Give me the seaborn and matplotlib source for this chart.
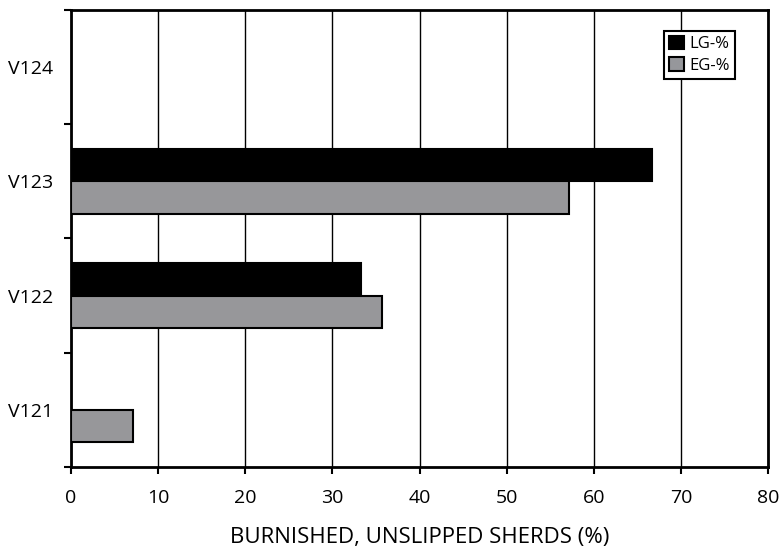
import numpy as np
import pandas as pd
import matplotlib.pyplot as plt
import seaborn as sns
from matplotlib.patches import Patch

# data
sites = ["V124", "V123", "V122", "V121"]
lg_pct = [np.nan, 66.7, 33.3, np.nan]
eg_pct = [np.nan, 57.1, 35.7, 7.1]
series = ["LG-%", "EG-%"]
colors = ["#000000", "#96979b"]

df = pd.DataFrame({"site": sites * 2,
                   "group": [series[0]] * 4 + [series[1]] * 4,
                   "pct": lg_pct + eg_pct}).dropna()

sns.set_style("white")
plt.rcParams["font.family"] = ["Open Sans", "DejaVu Sans"]
plt.rcParams["text.color"] = "black"
plt.rcParams["axes.labelcolor"] = "black"
plt.rcParams["xtick.color"] = "black"
plt.rcParams["ytick.color"] = "black"

fig = plt.figure(figsize=(7.81, 5.49), dpi=100)
ax = fig.add_axes([0.0909, 0.1494, 0.8925, 0.8324])

sns.barplot(data=df, x="pct", y="site", hue="group", order=sites,
            hue_order=series, palette=colors, orient="h", width=0.57,
            edgecolor="black", linewidth=1.5, legend=False, ax=ax, zorder=3)

ax.set_xlim(0, 80)
ax.set_ylim(3.5, -0.5)
ax.set_xticks(range(0, 81, 10))
ax.xaxis.grid(True, color="black", linewidth=1, zorder=0)
ax.set_axisbelow(True)

ax.set_yticks(range(4))
ax.set_yticklabels(sites)
ax.set_yticks(np.arange(-0.5, 4, 1), minor=True)
ax.tick_params(axis="y", which="major", length=0, pad=13, labelsize=14)
ax.tick_params(axis="y", which="minor", length=5, width=1.5, direction="out", left=True)
ax.tick_params(axis="x", length=5, width=1.5, direction="out", bottom=True, labelsize=14, pad=11)

for s in ax.spines.values():
    s.set_visible(True)
    s.set_color("black")
    s.set_linewidth(2)

ax.set_ylabel("")
ax.set_xlabel("BURNISHED, UNSLIPPED SHERDS (%)", fontsize=16, labelpad=14)

handles = [Patch(facecolor=c, edgecolor="black", linewidth=1.5, label=l) for c, l in zip(colors, series)]
leg = ax.legend(handles=handles, loc="upper right", bbox_to_anchor=(0.952, 0.955),
                fancybox=False, framealpha=1, edgecolor="black", fontsize=12,
                handlelength=0.9, handleheight=0.9, handletextpad=0.3,
                borderpad=0.3, labelspacing=0.3, borderaxespad=0)
leg.get_frame().set_linewidth(1.5)

fig.savefig("out.png", dpi=100)
